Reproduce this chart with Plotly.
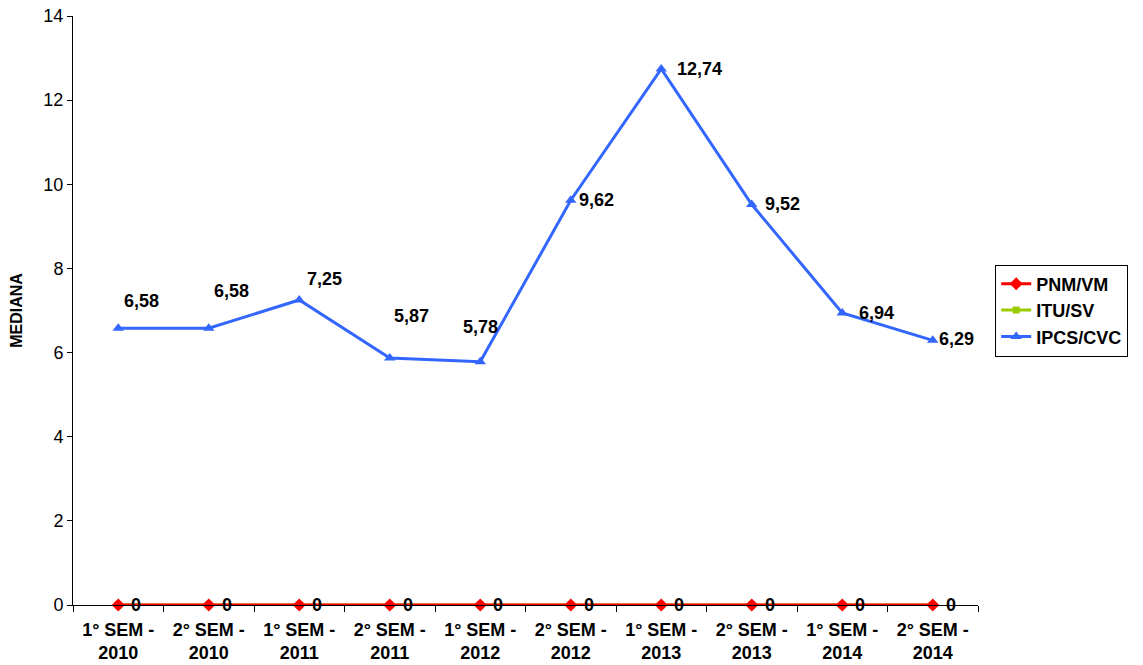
import plotly.graph_objects as go

categories = ["1° SEM -<br>2010", "2° SEM -<br>2010", "1° SEM -<br>2011", "2° SEM -<br>2011",
              "1° SEM -<br>2012", "2° SEM -<br>2012", "1° SEM -<br>2013", "2° SEM -<br>2013",
              "1° SEM -<br>2014", "2° SEM -<br>2014"]
pnm_vm = [0, 0, 0, 0, 0, 0, 0, 0, 0, 0]
itu_sv = [0, 0, 0, 0, 0, 0, 0, 0, 0, 0]
ipcs_cvc = [6.58, 6.58, 7.25, 5.87, 5.78, 9.62, 12.74, 9.52, 6.94, 6.29]
ipcs_labels = ["6,58", "6,58", "7,25", "5,87", "5,78", "9,62", "12,74", "9,52", "6,94", "6,29"]
label_shift = [(23, 27), (23, 37), (25, 21), (22, 42), (0, 35), (26, 0), (38, 0), (31, 0), (34, 0), (24, 1)]

FONT = "Liberation Sans, Arial, sans-serif"
cats = ["<b>" + c + "</b>" for c in categories]

fig = go.Figure()
fig.add_trace(go.Scatter(x=cats, y=itu_sv, name="<b>ITU/SV</b>", mode="lines+markers",
                         line=dict(color="#99cc00", width=3), cliponaxis=False, legendrank=2,
                         marker=dict(symbol="square", size=7, color="#99cc00")))
fig.add_trace(go.Scatter(x=cats, y=pnm_vm, name="<b>PNM/VM</b>", mode="lines+markers",
                         line=dict(color="#ff0000", width=3), cliponaxis=False, legendrank=1,
                         marker=dict(symbol="diamond", size=10, color="#ff0000")))
fig.add_trace(go.Scatter(x=cats, y=ipcs_cvc, name="<b>IPCS/CVC</b>", mode="lines+markers",
                         line=dict(color="#3366ff", width=3), cliponaxis=False, legendrank=3,
                         marker=dict(symbol="triangle-up", size=10, color="#3366ff")))

for c, v, lab, (dx, dy) in zip(cats, ipcs_cvc, ipcs_labels, label_shift):
    fig.add_annotation(x=c, y=v, text="<b>" + lab + "</b>", showarrow=False,
                       xshift=dx, yshift=dy, font=dict(family=FONT, size=18, color="black"))
for c, v in zip(cats, pnm_vm):
    fig.add_annotation(x=c, y=v, text="<b>0</b>", showarrow=False,
                       xshift=18, yshift=0, font=dict(family=FONT, size=18, color="black"))

fig.update_layout(
    width=1143, height=665,
    margin=dict(l=73, r=165, t=16, b=60),
    paper_bgcolor="white", plot_bgcolor="white",
    font=dict(family=FONT, color="black"),
    legend=dict(x=1.019, y=0.5, xanchor="left", yanchor="middle",
                bordercolor="black", borderwidth=1,
                font=dict(family=FONT, size=18, color="black"),
                tracegroupgap=0),
    showlegend=True,
)
fig.update_xaxes(type="category", range=[-0.5, 9.5], tickson="boundaries",
                 tickfont=dict(family=FONT, size=18, color="black"),
                 showline=True, linecolor="black", linewidth=1,
                 ticks="outside", ticklen=6, tickcolor="black",
                 ticklabelstandoff=8, automargin=False,
                 showgrid=False, zeroline=False)
fig.update_yaxes(range=[0, 14], dtick=2, tickfont=dict(family=FONT, size=18, color="black"),
                 showline=True, linecolor="black", linewidth=1,
                 ticks="outside", ticklen=5, tickcolor="black",
                 showgrid=False, zeroline=False, automargin=False,
                 title=dict(text="<b>MEDIANA</b>", font=dict(family=FONT, size=16, color="black"), standoff=16))

fig.write_html("out.html")
